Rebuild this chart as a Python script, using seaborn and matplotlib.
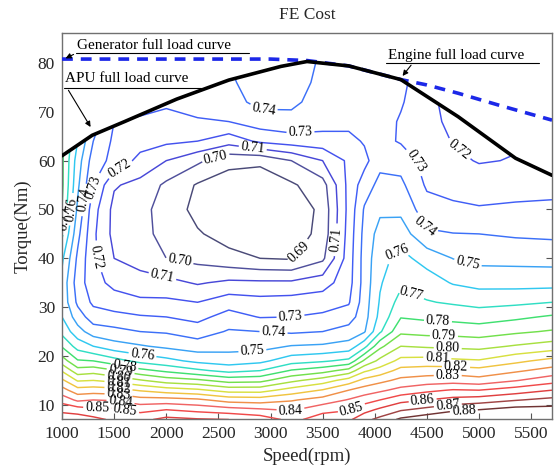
import numpy as np
import matplotlib
matplotlib.use("Agg")
import matplotlib.pyplot as plt
import seaborn as sns

# ---------------- data ----------------
speed = [1000, 1150, 1300, 1500, 1750, 2000, 2300, 2600, 2900, 3200,
         3500, 3750, 3900, 4050, 4250, 4500, 4750, 5000, 5350, 5700]
torque = [7, 9, 11, 13, 15, 17, 19, 22, 25, 28, 31, 35, 40, 45, 50, 55,
          60, 64, 68, 72, 76, 80, 86]

# FE cost per speed column, listed from low to high torque
fe_1000 = [0.867, 0.857, 0.846, 0.834, 0.822, 0.809, 0.795, 0.779, 0.767, 0.760, 0.757, 0.757,
           0.762, 0.772, 0.780, 0.782, 0.782, 0.782, 0.782, 0.782, 0.782, 0.782, 0.782]
fe_1150 = [0.866, 0.855, 0.838, 0.824, 0.809, 0.794, 0.781, 0.766, 0.754, 0.745, 0.738, 0.735,
           0.738, 0.743, 0.748, 0.752, 0.755, 0.760, 0.760, 0.760, 0.760, 0.760, 0.760]
fe_1300 = [0.863, 0.852, 0.840, 0.825, 0.810, 0.796, 0.780, 0.760, 0.745, 0.735, 0.728, 0.724,
           0.722, 0.722, 0.724, 0.730, 0.735, 0.740, 0.745, 0.750, 0.750, 0.750, 0.750]
fe_1500 = [0.858, 0.852, 0.839, 0.824, 0.807, 0.791, 0.774, 0.754, 0.743, 0.733, 0.725, 0.717,
           0.710, 0.707, 0.707, 0.711, 0.727, 0.728, 0.730, 0.740, 0.745, 0.750, 0.750]
fe_1750 = [0.857, 0.847, 0.834, 0.819, 0.801, 0.783, 0.767, 0.751, 0.740, 0.731, 0.722, 0.714,
           0.706, 0.703, 0.703, 0.707, 0.717, 0.724, 0.728, 0.735, 0.745, 0.750, 0.750]
fe_2000 = [0.863, 0.850, 0.834, 0.815, 0.795, 0.778, 0.763, 0.748, 0.739, 0.730, 0.722, 0.713,
           0.700, 0.697, 0.696, 0.698, 0.710, 0.722, 0.728, 0.731, 0.740, 0.745, 0.750]
fe_2300 = [0.861, 0.847, 0.832, 0.812, 0.792, 0.772, 0.7575, 0.745, 0.735, 0.727, 0.720, 0.709,
           0.697, 0.691, 0.687, 0.689, 0.702, 0.720, 0.729, 0.734, 0.742, 0.745, 0.750]
fe_2600 = [0.860, 0.844, 0.826, 0.806, 0.786, 0.767, 0.755, 0.7466, 0.741, 0.734, 0.7255, 0.712,
           0.693, 0.686, 0.684, 0.685, 0.693, 0.714, 0.730, 0.736, 0.738, 0.740, 0.740]
fe_2900 = [0.856, 0.8415, 0.825, 0.806, 0.787, 0.770, 0.7575, 0.7467, 0.740, 0.7295, 0.7236, 0.7117,
           0.690, 0.684, 0.682, 0.684, 0.692, 0.722, 0.735, 0.743, 0.746, 0.748, 0.750]
fe_3200 = [0.847, 0.8386, 0.829, 0.814, 0.7975, 0.781, 0.7657, 0.7505, 0.7386, 0.730, 0.7245, 0.7117,
           0.689, 0.684, 0.682, 0.6885, 0.700, 0.725, 0.737, 0.742, 0.745, 0.747, 0.748]
fe_3500 = [0.855, 0.847, 0.834, 0.8207, 0.805, 0.786, 0.7686, 0.7515, 0.740, 0.7318, 0.7257, 0.7155,
           0.698, 0.6935, 0.693, 0.696, 0.710, 0.726, 0.734, 0.736, 0.737, 0.738, 0.740]
fe_3750 = [0.858, 0.8492, 0.8408, 0.830, 0.8145, 0.794, 0.7725, 0.7539, 0.7441, 0.7353, 0.729, 0.726,
           0.725, 0.724, 0.723, 0.723, 0.722, 0.727, 0.733, 0.735, 0.736, 0.737, 0.738]
fe_3900 = [0.867, 0.8563, 0.8456, 0.8344, 0.823, 0.8083, 0.7917, 0.7667, 0.749, 0.746, 0.745, 0.744,
           0.744, 0.743, 0.741, 0.735, 0.727, 0.731, 0.734, 0.736, 0.737, 0.738, 0.740]
fe_4050 = [0.873, 0.862, 0.850, 0.838, 0.8272, 0.8141, 0.8028, 0.7875, 0.7685, 0.763, 0.761, 0.759,
           0.757, 0.754, 0.748, 0.743, 0.737, 0.733, 0.734, 0.735, 0.736, 0.738, 0.740]
fe_4250 = [0.882, 0.8688, 0.8567, 0.8433, 0.8325, 0.8235, 0.813, 0.800, 0.788, 0.7794, 0.7738, 0.768,
           0.763, 0.7552, 0.7476, 0.7423, 0.736, 0.729, 0.729, 0.731, 0.733, 0.735, 0.740]
fe_4500 = [0.887, 0.8729, 0.860, 0.8477, 0.8347, 0.8248, 0.8138, 0.7987, 0.7867, 0.7778, 0.7707, 0.7649,
           0.7561, 0.7415, 0.7343, 0.7285, 0.726, 0.725, 0.724, 0.723, 0.722, 0.721, 0.720]
fe_4750 = [0.893, 0.8775, 0.8633, 0.8508, 0.8356, 0.8256, 0.8119, 0.798, 0.7864, 0.7768, 0.7688, 0.7592,
           0.7498, 0.7403, 0.7319, 0.7267, 0.7223, 0.7195, 0.717, 0.716, 0.715, 0.715, 0.715]
fe_5000 = [0.892, 0.880, 0.865, 0.850, 0.8336, 0.8237, 0.8109, 0.7971, 0.7852, 0.7754, 0.7669, 0.7567,
           0.7471, 0.740, 0.7309, 0.7251, 0.7193, 0.716, 0.714, 0.713, 0.713, 0.713, 0.713]
fe_5350 = [0.895, 0.884, 0.8693, 0.8547, 0.8394, 0.8284, 0.8176, 0.8009, 0.7883, 0.778, 0.768, 0.7563,
           0.7469, 0.7387, 0.7318, 0.7259, 0.7205, 0.719, 0.718, 0.718, 0.718, 0.718, 0.718]
fe_5700 = [0.893, 0.884, 0.8729, 0.860, 0.8458, 0.8338, 0.8233, 0.8044, 0.791, 0.7813, 0.770, 0.7563,
           0.7465, 0.738, 0.732, 0.727, 0.724, 0.722, 0.722, 0.722, 0.722, 0.722, 0.722]

levels = [0.69, 0.70, 0.71, 0.72, 0.73, 0.74, 0.75, 0.76, 0.77, 0.78,
          0.79, 0.80, 0.81, 0.82, 0.83, 0.84, 0.85, 0.86, 0.87, 0.88]
level_colors = ['#4a4a78', '#50509c', '#4848d8', '#4452ee', '#405ef6', '#3c70f8',
                '#3aa2f5', '#30c8f0', '#30dec4', '#40e070', '#72e04c', '#a8e040',
                '#d8e040', '#f0c440', '#f09048', '#f06464', '#f04a4a', '#e04040',
                '#a04444', '#703434']

# APU (engine+generator) full load curve
apu_speed = [1000, 1290, 1600, 2100, 2600, 3100, 3350, 3750, 4250, 4800, 5350, 5700]
apu_torque = [61.0, 65.2, 68.0, 72.6, 76.5, 79.3, 80.3, 79.4, 76.6, 69.0, 60.5, 57.0]
# Generator full load curve
gen_speed = [1000, 1500, 2000, 2500, 3000, 3350, 3750, 4250, 4500, 4800, 5200, 5700]
gen_torque = [80.8, 80.8, 80.8, 80.8, 80.8, 80.5, 79.4, 76.6, 75.5, 73.8, 71.3, 68.3]

xticks = [1000, 1500, 2000, 2500, 3000, 3500, 4000, 4500, 5000, 5500]
yticks = [10, 20, 30, 40, 50, 60, 70, 80]

label_pos = [(2933, 70.0), (3288, 65.5), (2471, 61.0), (2827, 62.0), (1558, 58.1),
             (1288, 54.6), (1200, 52.0), (1110, 50.0), (1050, 48.0),
             (1337, 40.3), (2135, 40.5), (1962, 36.2), (3288, 41.0), (3625, 43.8),
             (4413, 60.1), (4827, 63.0), (4510, 47.0), (4183, 42.3), (4894, 39.1),
             (4346, 32.9), (3192, 28.0), (3029, 24.9), (2827, 20.6), (1769, 19.6),
             (1600, 18.0), (1560, 16.5), (1540, 15.3), (1540, 14.1), (1540, 12.9),
             (1540, 11.6), (1560, 10.4), (1337, 8.4), (1600, 8.0),
             (4606, 27.0), (4663, 23.9), (4700, 21.7), (4600, 19.6), (4780, 18.2),
             (4700, 16.1), (3192, 8.6), (3788, 8.4), (4461, 10.4), (4702, 9.6),
             (4856, 8.0)]

# ---------------- plotting ----------------
sns.set_theme(style="ticks")
plt.rcParams['font.family'] = ['Liberation Serif', 'DejaVu Serif']

fig = plt.figure(figsize=(5.54, 4.72), dpi=100)
ax = fig.add_axes([62 / 554, 53 / 472, 490 / 554, 386.3 / 472])

Z = np.array([fe_1000, fe_1150, fe_1300, fe_1500, fe_1750, fe_2000, fe_2300, fe_2600,
              fe_2900, fe_3200, fe_3500, fe_3750, fe_3900, fe_4050, fe_4250, fe_4500,
              fe_4750, fe_5000, fe_5350, fe_5700]).T

cs = ax.contour(speed, torque, Z, levels=levels, colors=level_colors,
                linewidths=1.05, zorder=1)
ax.fill_between(apu_speed, apu_torque, 95, color='white', lw=0, zorder=1.5)

sns.lineplot(x=gen_speed, y=gen_torque, ax=ax, color='#1c28e8', lw=2.6,
             sort=False, estimator=None, zorder=3)
ax.lines[-1].set_dashes([3.0, 2.2])
sns.lineplot(x=apu_speed, y=apu_torque, ax=ax, color='black', lw=2.6,
             sort=False, estimator=None, zorder=4)

ax.clabel(cs, fmt='%.2f', fontsize=10, colors='black', inline=True,
          inline_spacing=2, manual=label_pos)

# annotations (text, underline, arrow)
ann_kw = dict(fontsize=11, color='black', va='center', ha='left', zorder=6)
ax.text(1144, 83.6, 'Generator full load curve', **ann_kw)
ax.plot([1135, 2790], [82.0, 82.0], color='black', lw=0.8, zorder=6)
ax.annotate('', xy=(1010, 80.7), xytext=(1135, 82.0),
            arrowprops=dict(arrowstyle='-|>', color='black', lw=0.8, mutation_scale=8), zorder=6)

ax.text(1029, 76.9, 'APU full load curve', **ann_kw)
ax.plot([1019, 2330], [74.9, 74.9], color='black', lw=0.8, zorder=6)
ax.annotate('', xy=(1288, 66.4), xytext=(1048, 74.9),
            arrowprops=dict(arrowstyle='-|>', color='black', lw=0.8, mutation_scale=8), zorder=6)

ax.text(4125, 81.7, 'Engine full load curve', **ann_kw)
ax.plot([4106, 5580], [80.0, 80.0], color='black', lw=0.8, zorder=6)
ax.annotate('', xy=(4250, 76.9), xytext=(4365, 80.0),
            arrowprops=dict(arrowstyle='-|>', color='black', lw=0.8, mutation_scale=8), zorder=6)

ax.set_xlim(1000, 5700)
ax.set_ylim(7.1, 86.2)
ax.set_xticks(xticks)
ax.set_yticks(yticks)
ax.tick_params(direction='in', top=True, right=True, length=4, width=0.8,
               color='#555555', labelsize=12.5, pad=5)
for sp in ax.spines.values():
    sp.set_visible(True)
    sp.set_color('#707070')
    sp.set_linewidth(1.0)

ax.set_title('FE Cost', fontsize=12.5, pad=10)
ax.set_xlabel('Speed(rpm)', fontsize=13.5, labelpad=4)
ax.set_ylabel('Torque(Nm)', fontsize=13.5, labelpad=4)

fig.savefig('out.png', dpi=100)
